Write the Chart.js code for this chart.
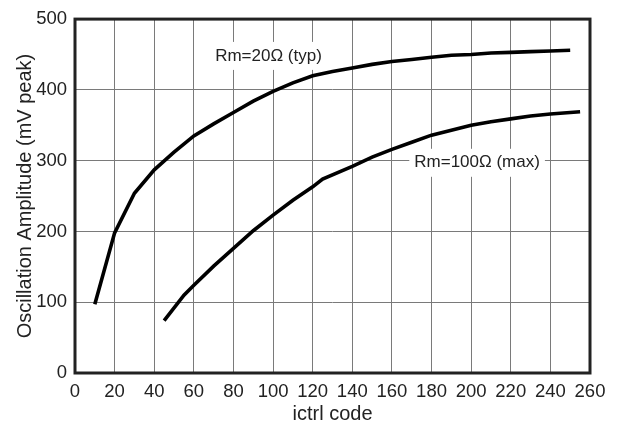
<!DOCTYPE html>
<html>
<head>
<meta charset="utf-8">
<script src="https://cdn.jsdelivr.net/npm/chart.js@4/dist/chart.umd.min.js"></script>
<style>
  html, body { margin: 0; padding: 0; background: #fff; }
  #wrap { width: 618px; height: 427px; position: relative; }
</style>
</head>
<body>
<div id="wrap"><canvas id="chart"></canvas></div>
<script>
// ictrl code vs oscillation amplitude, two crystal Rm cases
const typCodes = [10, 20, 30, 40, 50, 60, 70, 80, 90, 100, 110, 120, 130, 140, 150, 160, 170, 180, 190, 200, 210, 220, 230, 240, 250];
const typAmpl  = [97, 198, 254, 287, 312, 335, 352, 368, 384, 398, 410, 420, 426, 431, 436, 440, 443, 446, 449, 450, 452, 453, 454, 455, 456];

const maxCodes = [45, 55, 60, 70, 80, 90, 100, 110, 120, 125, 140, 150, 160, 170, 180, 190, 200, 210, 220, 230, 240, 255];
const maxAmpl  = [74, 110, 124, 151, 176, 201, 223, 244, 263, 274, 292, 305, 316, 326, 336, 343, 350, 355, 359, 363, 366, 369];

const xTicks = [0, 20, 40, 60, 80, 100, 120, 140, 160, 180, 200, 220, 240, 260];
const yTicks = [0, 100, 200, 300, 400, 500];

const curveLabels = ["Rm=20\u03A9 (typ)", "Rm=100\u03A9 (max)"];

const FONT = "'Liberation Sans', Arial, sans-serif";
const INK = "#222";

function toPoints(xs, ys) {
  return xs.map((x, i) => ({ x: x, y: ys[i] }));
}

// frame around the plot area, drawn over the grid
const frame = {
  id: "frame",
  afterDatasetsDraw(chart) {
    const { ctx, chartArea: a } = chart;
    ctx.save();
    ctx.strokeStyle = INK;
    ctx.lineWidth = 3;
    ctx.strokeRect(a.left, a.top, a.right - a.left, a.bottom - a.top);
    ctx.restore();
  },
};

// curve names placed in data space, on a white patch
const curveNames = {
  id: "curveNames",
  afterDatasetsDraw(chart, args, opts) {
    const { ctx, scales } = chart;
    ctx.save();
    ctx.font = "17px " + FONT;
    ctx.textAlign = "center";
    ctx.textBaseline = "middle";
    opts.items.forEach((it) => {
      const px = scales.x.getPixelForValue(it.at[0]);
      const py = scales.y.getPixelForValue(it.at[1]);
      const w = ctx.measureText(it.text).width;
      ctx.fillStyle = "#fff";
      ctx.fillRect(px - w / 2 - 5, py - 14, w + 10, 28);
      ctx.fillStyle = INK;
      ctx.fillText(it.text, px, py);
    });
    ctx.restore();
  },
};

const line = (data) => ({
  data: data,
  borderColor: "#000",
  borderWidth: 3.6,
  pointRadius: 0,
  tension: 0,
  fill: false,
});

new Chart(document.getElementById("chart"), {
  type: "line",
  data: {
    datasets: [
      line(toPoints(typCodes, typAmpl)),
      line(toPoints(maxCodes, maxAmpl)),
    ],
  },
  options: {
    animation: false,
    responsive: true,
    maintainAspectRatio: false,
    layout: { padding: { left: 0, top: 16, right: 28, bottom: 0 } },
    plugins: {
      legend: { display: false },
      tooltip: { enabled: false },
      curveNames: {
        items: [
          { text: curveLabels[0], at: [97.7, 448] },
          { text: curveLabels[1], at: [203, 297] },
        ],
      },
    },
    scales: {
      x: {
        type: "linear",
        min: 0,
        max: 260,
        afterBuildTicks: (s) => { s.ticks = xTicks.map((v) => ({ value: v })); },
        afterFit: (s) => { s.height = 54; },
        grid: { color: "#7a7a7a", lineWidth: 1, drawTicks: false },
        border: { display: false },
        ticks: { color: INK, padding: 8, font: { family: FONT, size: 18.5 }, maxRotation: 0 },
        title: {
          display: true,
          text: "ictrl code",
          color: INK,
          font: { family: FONT, size: 20 },
          padding: { top: 0, bottom: 1 },
        },
      },
      y: {
        type: "linear",
        min: 0,
        max: 500,
        afterBuildTicks: (s) => { s.ticks = yTicks.map((v) => ({ value: v })); },
        afterFit: (s) => { s.width = 75; },
        grid: { color: "#7a7a7a", lineWidth: 1, drawTicks: false },
        border: { display: false },
        ticks: { color: INK, padding: 8, font: { family: FONT, size: 18.5 } },
        title: {
          display: true,
          text: "Oscillation Amplitude (mV peak)",
          color: INK,
          font: { family: FONT, size: 20 },
          padding: { top: 13, bottom: 0 },
        },
      },
    },
  },
  plugins: [frame, curveNames],
});
</script>
</body>
</html>
